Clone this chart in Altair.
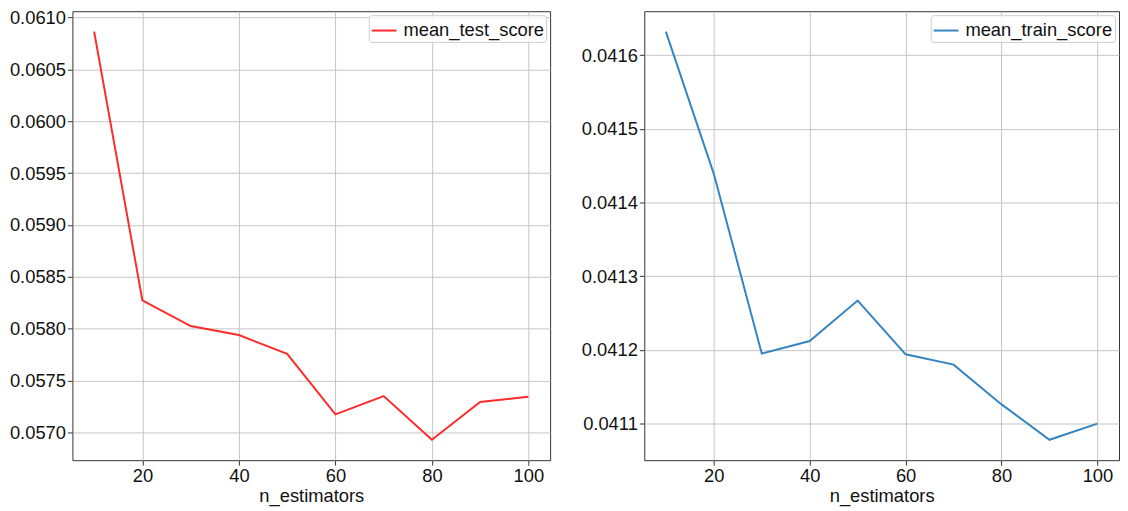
import altair as alt
import pandas as pd

n_estimators = [10, 20, 30, 40, 50, 60, 70, 80, 90, 100]
mean_test_score = [0.060863, 0.058274, 0.058026, 0.057939, 0.057758,
                   0.057175, 0.057351, 0.056930, 0.057294, 0.057345]
mean_train_score = [0.041632, 0.041439, 0.041195, 0.041212, 0.041267,
                    0.041194, 0.041180, 0.041126, 0.041078, 0.041100]
x_ticks = [20, 40, 60, 80, 100]
test_ticks = [0.0570, 0.0575, 0.0580, 0.0585, 0.0590, 0.0595, 0.0600, 0.0605, 0.0610]
train_ticks = [0.0411, 0.0412, 0.0413, 0.0414, 0.0415, 0.0416]

FONT = "Liberation Sans"
FS = 18.5


def margin_domain(vals, frac=0.05):
    lo, hi = min(vals), max(vals)
    pad = (hi - lo) * frac
    return [lo - pad, hi + pad]


def panel(values, name, color, yticks, width):
    df = pd.DataFrame({"n_estimators": n_estimators, "score": values, "series": name})
    return alt.Chart(df).mark_line(strokeWidth=2, clip=True).encode(
        x=alt.X("n_estimators:Q",
                scale=alt.Scale(domain=margin_domain(n_estimators), nice=False, zero=False),
                axis=alt.Axis(values=x_ticks, title="n_estimators", format="d")),
        y=alt.Y("score:Q",
                scale=alt.Scale(domain=margin_domain(values), nice=False, zero=False),
                axis=alt.Axis(values=yticks, title=None, format=".4f")),
        color=alt.Color("series:N",
                        scale=alt.Scale(domain=[name], range=[color]),
                        legend=alt.Legend(title=None, orient="top-right", offset=4,
                                          padding=2, fillColor="rgba(255,255,255,0.8)",
                                          strokeColor="#cccccc", cornerRadius=3,
                                          symbolType="stroke", symbolSize=625,
                                          symbolStrokeWidth=2, labelOffset=6,
                                          labelFont=FONT, labelFontSize=FS,
                                          labelColor="#111111")),
    ).properties(width=width, height=453)


left = panel(mean_test_score, "mean_test_score", "#ff2a2a", test_ticks, 482)
right = panel(mean_train_score, "mean_train_score", "#3585c3", train_ticks, 479)

chart = alt.hconcat(left, right, spacing=29).resolve_scale(
    color="independent"
).resolve_legend(color="independent").properties(
    padding={"left": 0, "top": -3, "right": 0, "bottom": 0}
).configure_view(
    stroke="#333333", strokeWidth=1
).configure_axis(
    domain=False, tickColor="#333333", tickSize=5, tickWidth=1,
    grid=True, gridColor="#c4c4c4", gridWidth=1,
    labelFont=FONT, labelFontSize=FS, labelColor="#111111", labelPadding=2,
    titleFont=FONT, titleFontSize=FS, titleFontWeight="normal", titleColor="#111111",
    titlePadding=1
)

chart.save("out.html", embed_options={"renderer": "svg", "actions": False})
